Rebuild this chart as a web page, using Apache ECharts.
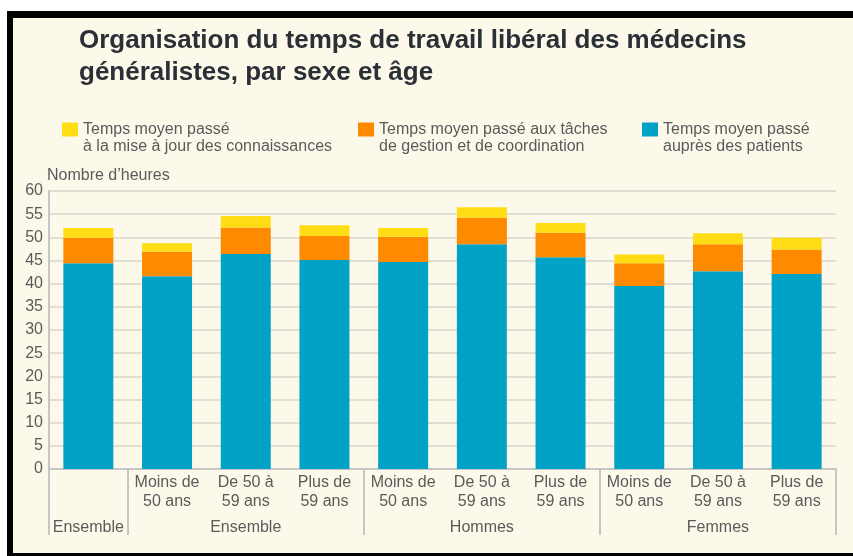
<!DOCTYPE html>
<html>
<head>
<meta charset="utf-8">
<script src="https://cdn.jsdelivr.net/npm/echarts@6/dist/echarts.min.js"></script>
<style>
html, body {margin: 0; padding: 0; background: #fff;}
#frame {position: absolute; left: 7px; top: 11px; width: 846px; height: 545px; box-sizing: border-box;
    background: #fdf9ea; border-top: 7px solid #000; border-left: 6px solid #000; border-bottom: 3px solid #000;}
#main {position: absolute; left: 0; top: 0; width: 853px; height: 556px;}
</style>
</head>
<body>
<div id="frame"></div>
<div id="main"></div>
<script>
// categories (age band + group label under it)
var ages = ['', 'Moins de\n50 ans', 'De 50 à\n59 ans', 'Plus de\n59 ans',
    'Moins de\n50 ans', 'De 50 à\n59 ans', 'Plus de\n59 ans',
    'Moins de\n50 ans', 'De 50 à\n59 ans', 'Plus de\n59 ans'];
var groupLabels = ['Ensemble', '', 'Ensemble', '', '', 'Hommes', '', '', 'Femmes', ''];
var groupKeys = ['Ensemble', 'Ensemble', 'Ensemble', 'Ensemble', 'Hommes', 'Hommes', 'Hommes', 'Femmes', 'Femmes', 'Femmes'];
// separators drawn before these category indexes
var groupStarts = [0, 1, 4, 7];

// heures par semaine
var patients = [44.4, 41.6, 46.4, 45.1, 44.7, 48.5, 45.7, 39.5, 42.7, 42.1];
var gestion = [5.5, 5.3, 5.7, 5.2, 5.4, 5.7, 5.3, 4.9, 5.8, 5.3];
var connaissances = [2.1, 1.8, 2.5, 2.3, 1.9, 2.3, 2.1, 1.9, 2.4, 2.5];

var seriesNames = ['Temps moyen passé à la mise à jour des connaissances',
    'Temps moyen passé aux tâches de gestion et de coordination',
    'Temps moyen passé auprès des patients'];
var legendLabels = ['Temps moyen passé\nà la mise à jour des connaissances',
    'Temps moyen passé aux tâches\nde gestion et de coordination',
    'Temps moyen passé\nauprès des patients'];
var colors = ['#ffdd14', '#fe8a00', '#00a3c6'];

var yTicks = {min: 0, max: 60, interval: 5};

var FONT = 'Liberation Sans, Arial, sans-serif';
var GREY = '#5a5a5a';

var keys = ages.map(function (a, i) {
    return groupKeys[i] + ' ' + (a || 'Ensemble').replace('\n', ' ');
});

var legendX = [62, 358, 642];
var legends = seriesNames.map(function (name, i) {
    return {
        data: [name],
        left: legendX[i],
        top: 104,
        padding: 0,
        itemWidth: 16,
        itemHeight: 14,
        itemGap: 0,
        icon: 'rect',
        selectedMode: false,
        // blank first line so that the first real line sits beside the square
        formatter: function () { return ' \n' + legendLabels[i]; },
        textStyle: {fontFamily: FONT, fontSize: 16, color: GREY, lineHeight: 17}
    };
});

var myChart = echarts.init(document.getElementById('main'));

var option = {
    animation: false,
    textStyle: {fontFamily: FONT},
    title: {
        text: 'Organisation du temps de travail libéral des médecins\ngénéralistes, par sexe et âge',
        left: 79,
        top: 25,
        padding: 0,
        textStyle: {
            fontFamily: FONT, fontWeight: 'bold', fontSize: 26, lineHeight: 32, color: '#2b2f36'
        }
    },
    legend: legends,
    grid: {
        left: 49, right: 17, top: 191, bottom: 87,
        containLabel: false,
        outerBoundsMode: 'none'
    },
    xAxis: {
        type: 'category',
        data: keys,
        axisLine: {lineStyle: {color: '#c6c6c6', width: 2}},
        axisTick: {
            show: true,
            length: 66,
            interval: function (index) { return groupStarts.indexOf(index) >= 0; },
            lineStyle: {color: '#c6c6c6', width: 2}
        },
        axisLabel: {
            interval: 0,
            margin: 4,
            color: GREY,
            fontFamily: FONT,
            formatter: function (v, i) {
                var a = ages[i].split('\n');
                return '{a|' + (a[0] || ' ') + '}\n{a|' + (a[1] || ' ') + '}\n{g|' + (groupLabels[i] || ' ') + '}';
            },
            rich: {
                a: {fontSize: 16, lineHeight: 19, color: GREY, fontFamily: FONT},
                g: {fontSize: 16, lineHeight: 33, color: GREY, fontFamily: FONT}
            }
        }
    },
    yAxis: {
        type: 'value',
        min: yTicks.min,
        max: yTicks.max,
        interval: yTicks.interval,
        name: 'Nombre d’heures',
        nameLocation: 'end',
        nameGap: 3,
        nameTextStyle: {align: 'left', fontSize: 16, color: GREY, fontFamily: FONT, padding: [0, 0, 0, -2]},
        axisLine: {show: true, lineStyle: {color: '#c6c6c6', width: 2}},
        axisTick: {show: false},
        axisLabel: {margin: 6, fontSize: 16, color: GREY, fontFamily: FONT},
        splitLine: {lineStyle: {color: '#d8d5ca', width: 1.5}}
    },
    series: [{
        name: seriesNames[2],
        type: 'bar',
        stack: 'h',
        barWidth: 50,
        itemStyle: {color: colors[2]},
        data: patients
    }, {
        name: seriesNames[1],
        type: 'bar',
        stack: 'h',
        barWidth: 50,
        itemStyle: {color: colors[1]},
        data: gestion
    }, {
        name: seriesNames[0],
        type: 'bar',
        stack: 'h',
        barWidth: 50,
        itemStyle: {color: colors[0]},
        data: connaissances
    }]
};
myChart.setOption(option);
</script>
</body>
</html>
